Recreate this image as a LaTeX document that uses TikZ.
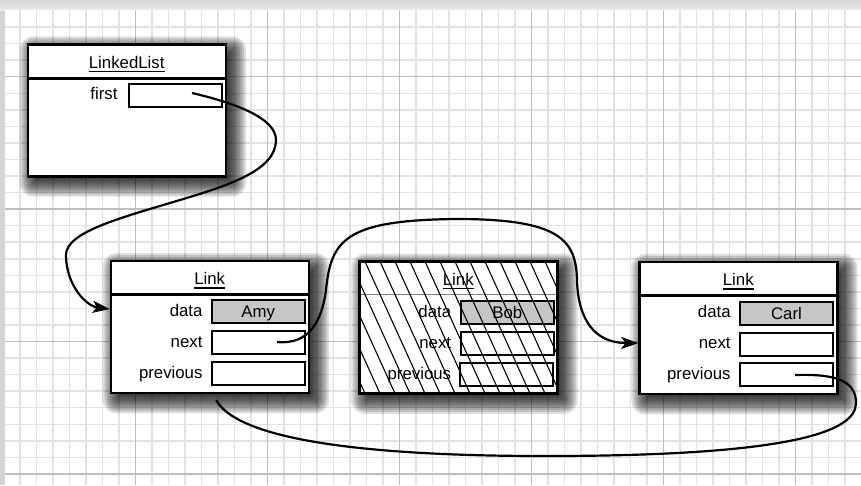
\documentclass[tikz,border=0pt]{standalone}
\usepackage{fontspec}
\setmainfont{Liberation Sans}
\usetikzlibrary{calc,arrows.meta}
\definecolor{minorgrid}{RGB}{226,226,226}
\definecolor{majorgrid}{RGB}{190,190,190}
\definecolor{fieldgray}{RGB}{198,198,198}
\definecolor{framegray}{RGB}{212,212,212}
\newcommand\figfont{\fontsize{16.8pt}{20pt}\selectfont}
\newcommand\figshadow[1]{%
  \foreach \r in {-8,-6,...,14}
    \fill[black, opacity=0.13, rounded corners={max(\r,1)*1pt}]
      ($(#1.north west)+(6-\r,6-\r)$) rectangle ($(#1.south east)+(6+\r,6+\r)$);}
\tikzset{
  objbox/.style={draw=black, line width=2.4pt, fill=white, minimum width=198pt, minimum height=132pt,
    inner sep=0pt, outer sep=0pt, anchor=north west},
  shadowbase/.style={minimum width=198pt, minimum height=132pt, inner sep=0pt, anchor=north west},
  fieldbox/.style={draw=black, line width=2pt, fill=white, minimum width=93pt, minimum height=23pt,
    inner sep=0pt, outer sep=0pt, anchor=north west, font=\figfont, text height=12pt, text depth=0pt},
  datafield/.style={fieldbox, fill=fieldgray},
  lbl/.style={anchor=base east, inner sep=0pt, font=\figfont},
  ttl/.style={anchor=base, inner sep=0pt, font=\figfont},
  uline/.style={line width=1.4pt},
  divider/.style={line width=2.4pt},
  conn/.style={line width=2.2pt, black},
  tip/.style={-{Stealth[length=17pt,width=12pt,inset=4pt]}},
  hatch/.style={line width=1.1pt, black},
}
\begin{document}
\begin{tikzpicture}[x=1pt,y=-1pt]
\useasboundingbox (0,0) rectangle (861,485);
% frame and paper
\fill[framegray] (0,0) rectangle (861,485);
\shade[top color=gray!32, bottom color=gray!16] (0,0) rectangle (861,10);
\fill[white] (5,10) rectangle (861,485);
% grid
\foreach \k in {1,...,52} \draw[minorgrid, line width=1.5pt] ({3.5+16.5*\k},10) -- ({3.5+16.5*\k},485);
\foreach \k in {1,...,29} \draw[minorgrid, line width=1.5pt] (5,{10.5+16.55*\k}) -- (861,{10.5+16.55*\k});
\foreach \k in {1,...,6} \draw[majorgrid, line width=1.4pt] ({3.5+132*\k},10) -- ({3.5+132*\k},485);
\foreach \k in {0,...,3} \draw[majorgrid, line width=1.4pt] (5,{76.7+132.4*\k}) -- (861,{76.7+132.4*\k});

% shadows of the object boxes
\path (27.7,44.3) node[shadowbase] (llsh) {};
\path (110.7,261) node[shadowbase] (amysh) {};
\path (359.3,261.5) node[shadowbase] (bobsh) {};
\path (639.3,262) node[shadowbase] (carlsh) {};
\figshadow{llsh}
\figshadow{amysh}
\figshadow{bobsh}
\figshadow{carlsh}

% LinkedList object
\node[objbox] (ll) at (27.7,44.3) {};
\draw[divider] ($(ll.north west)+(0,34)$) -- ($(ll.north east)+(0,34)$);
\node[ttl] (lltitle) at ($(ll.north west)+(99,24)$) {LinkedList};
\draw[uline] ($(lltitle.base west)+(0,3.4)$) -- ($(lltitle.base east)+(0,3.4)$);
\node[lbl] (llfirstlbl) at ($(ll.north west)+(90,55.5)$) {first};
\node[fieldbox] (llfirst) at ($(ll.north west)+(101.3,40)$) {};

% Amy link
\node[objbox] (amy) at (110.7,261) {};
\draw[divider] ($(amy.north west)+(0,33.3)$) -- ($(amy.north east)+(0,33.3)$);
\node[ttl] (amytitle) at ($(amy.north west)+(99,23.5)$) {Link};
\draw[uline] ($(amytitle.base west)+(0,3.4)$) -- ($(amytitle.base east)+(0,3.4)$);
\node[lbl] (amydatal) at ($(amy.north west)+(92,55.9)$) {data};
\node[lbl] (amynextl) at ($(amy.north west)+(92,86.9)$) {next};
\node[lbl] (amyprevl) at ($(amy.north west)+(92,117.9)$) {previous};
\node[datafield] (amydata) at ($(amy.north west)+(101,39)$) {Amy};
\node[fieldbox] (amynext) at ($(amy.north west)+(101,70)$) {};
\node[fieldbox] (amyprev) at ($(amy.north west)+(101,101)$) {};

% Bob link (removed, hatched)
\node[objbox] (bob) at (359.3,261.5) {};
\draw[line width=1.2pt, gray] ($(bob.north west)+(0,33.3)$) -- ($(bob.north east)+(0,33.3)$);
\node[ttl] (bobtitle) at ($(bob.north west)+(99,23.5)$) {Link};
\draw[uline] ($(bobtitle.base west)+(0,3.4)$) -- ($(bobtitle.base east)+(0,3.4)$);
\node[lbl] (bobdatal) at ($(bob.north west)+(92,55.9)$) {data};
\node[lbl] (bobnextl) at ($(bob.north west)+(92,86.9)$) {next};
\node[lbl] (bobprevl) at ($(bob.north west)+(92,117.9)$) {previous};
\node[datafield] (bobdata) at ($(bob.north west)+(101.5,39)$) {Bob};
\node[fieldbox, fill=none] (bobnext) at ($(bob.north west)+(101.5,70)$) {};
\node[fieldbox, fill=none] (bobprev) at ($(bob.north west)+(101,101)$) {};
\begin{scope}
\clip (bob.north west) rectangle (bob.south east);
\foreach \k in {-5,...,13} \draw[hatch] ({365+15*\k},261.5) -- ++(60,132);
\end{scope}
\draw[line width=2.4pt] (bob.north west) rectangle (bob.south east);

% Carl link
\node[objbox] (carl) at (639.3,262) {};
\draw[divider] ($(carl.north west)+(0,33.3)$) -- ($(carl.north east)+(0,33.3)$);
\node[ttl] (carltitle) at ($(carl.north west)+(99,23.5)$) {Link};
\draw[uline] ($(carltitle.base west)+(0,3.4)$) -- ($(carltitle.base east)+(0,3.4)$);
\node[lbl] (carldatal) at ($(carl.north west)+(91.5,55.9)$) {data};
\node[lbl] (carlnextl) at ($(carl.north west)+(91.5,86.9)$) {next};
\node[lbl] (carlprevl) at ($(carl.north west)+(91.5,117.9)$) {previous};
\node[datafield] (carldata) at ($(carl.north west)+(100.7,39.5)$) {Carl};
\node[fieldbox] (carlnext) at ($(carl.north west)+(100.7,70.5)$) {};
\node[fieldbox] (carlprev) at ($(carl.north west)+(100.7,101.3)$) {};

% connectors
\coordinate (s1) at (192,93);
\coordinate (e1) at ($(amy.north west)+(-1,48)$);
\draw[conn, tip] (s1) .. controls (235,103) and (276,118) .. (276,140)
  .. controls (276,170) and (230,185) .. (180,200)
  .. controls (120,218) and (66,232) .. (66,255)
  .. controls (66,285) and (86,306) .. (e1);

\coordinate (s2) at (277,342);
\coordinate (e2) at ($(carl.north west)+(-1,81)$);
\draw[conn, tip] (s2) .. controls (310,345) and (322,320) .. (326,290)
  .. controls (331,240) and (345,220) .. (457,219)
  .. controls (560,219) and (576,240) .. (577,280)
  .. controls (578,320) and (595,343) .. (e2);

\coordinate (s3) at (795,375);
\coordinate (e3) at ($(amy.south west)+(105.5,7)$);
\draw[conn] (s3) .. controls (830,374) and (856,378) .. (856,403)
  .. controls (856,432) and (790,455) .. (560,456)
  .. controls (340,457) and (235,435) .. (e3);
\end{tikzpicture}
\end{document}
